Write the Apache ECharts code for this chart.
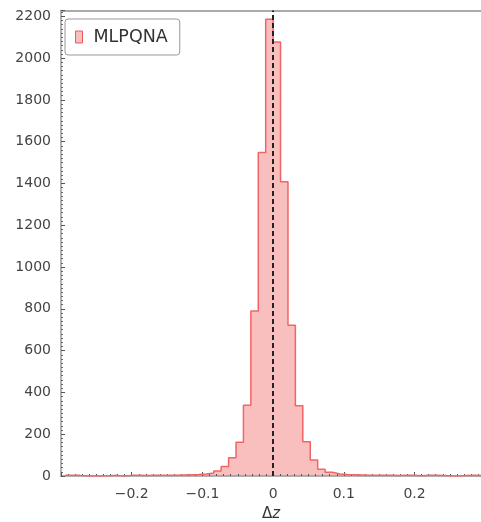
<!DOCTYPE html>
<html>
<head>
<meta charset="utf-8">
<script src="https://cdn.jsdelivr.net/npm/echarts@6/dist/echarts.min.js"></script>
<style>
  html, body { margin: 0; padding: 0; background: #fff; }
  #chart { width: 481px; height: 522px; }
</style>
</head>
<body>
<div id="chart"></div>
<script>
// histogram of Δz, bins of equal width starting at binStart
const binStart = -0.294
const binWidth = 0.0105
const counts = [
  3, 3, 0, 0, 0, 1, 3, 0, 3, 3,
  2, 3, 3, 4, 4, 5, 6, 7, 10, 14,
  24, 46, 87, 162, 339, 790, 1548, 2186,
  2077, 1408, 722, 336, 164, 76, 32, 18, 10, 7,
  6, 5, 4, 4, 3, 3, 2, 3, 3, 1,
  3, 3, 2, 0, 0, 2, 3, 2
]
const seriesName = 'MLPQNA'
const xTicks = [-0.2, -0.1, 0, 0.1, 0.2]
const yTicks = [0, 200, 400, 600, 800, 1000, 1200, 1400, 1600, 1800, 2000, 2200]

// step points: left edge of each bin + closing right edge
const stepData = counts.map((c, i) => [binStart + i * binWidth, c])
stepData.push([binStart + counts.length * binWidth, counts[counts.length - 1]])

const fmtX = v => {
  const r = +v.toFixed(2)
  if (r === 0) return '0'
  return r < 0 ? '\u2212' + Math.abs(r) : String(r)
}

const chart = echarts.init(document.getElementById('chart'))
chart.setOption({
  animation: false,
  textStyle: { fontFamily: 'DejaVu Sans' },
  grid: {
    left: 61, top: 10.5, right: 0, bottom: 46,
    outerBoundsMode: 'none'
  },
  legend: {
    left: 65, top: 19,
    data: [{ name: seriesName, icon: 'rect' }],
    itemWidth: 7, itemHeight: 12,
    padding: [9, 12, 9, 10],
    borderColor: '#999', borderWidth: 1, borderRadius: 3,
    backgroundColor: '#fff',
    itemStyle: { color: '#f9bebe', borderColor: '#f05a5a', borderWidth: 1 },
    textStyle: { fontSize: 17.5, color: '#333', fontFamily: 'DejaVu Sans', padding: [0, 0, 0, 6] }
  },
  xAxis: [{
    type: 'value', min: -0.3, max: 0.294, interval: 0.1, z: 3,
    name: '\u0394{i|z}', nameLocation: 'middle', nameGap: 31,
    nameTextStyle: {
      fontSize: 15, color: '#333', fontFamily: 'DejaVu Sans',
      rich: { i: { fontSize: 15, color: '#333', fontStyle: 'italic', fontFamily: 'DejaVu Sans' } }
    },
    axisLine: { onZero: false, lineStyle: { color: '#999', width: 1.5 } },
    axisTick: { inside: true, length: 4, lineStyle: { color: '#555' } },
    minorTick: { show: true, splitNumber: 10, length: 2, lineStyle: { color: '#555' } },
    splitLine: { show: false },
    axisLabel: {
      fontSize: 14, color: '#444', margin: 11,
      showMinLabel: false, showMaxLabel: false,
      formatter: v => xTicks.some(t => Math.abs(t - v) < 1e-6) ? fmtX(v) : ''
    }
  }, {
    // top frame line only
    type: 'value', position: 'top', min: -0.3, max: 0.294, z: 3,
    axisLine: { show: true, onZero: false, lineStyle: { color: '#aaa', width: 2 } },
    axisTick: { show: false }, axisLabel: { show: false }, splitLine: { show: false }
  }],
  yAxis: {
    type: 'value', min: 0, max: 2228, interval: 200, z: 3,
    axisLine: { show: true, onZero: false, lineStyle: { color: '#999', width: 1.5 } },
    axisTick: { show: true, inside: true, length: 4, lineStyle: { color: '#555' } },
    minorTick: { show: true, splitNumber: 10, length: 2, lineStyle: { color: '#666' } },
    splitLine: { show: false },
    axisLabel: {
      fontSize: 14, color: '#444', margin: 10, showMaxLabel: false,
      formatter: v => yTicks.includes(v) ? String(v) : ''
    }
  },
  series: [{
    name: seriesName,
    type: 'line',
    step: 'end',
    data: stepData,
    symbol: 'none',
    lineStyle: { color: '#f26565', width: 1.5 },
    itemStyle: { color: '#f9bebe', borderColor: '#f05a5a' },
    areaStyle: { color: '#f9bebe', opacity: 1 },
    markLine: {
      silent: true,
      symbol: 'none',
      label: { show: false },
      lineStyle: { color: '#222', type: [5, 3], width: 2 },
      data: [{ xAxis: 0 }]
    }
  }]
})
</script>
</body>
</html>
